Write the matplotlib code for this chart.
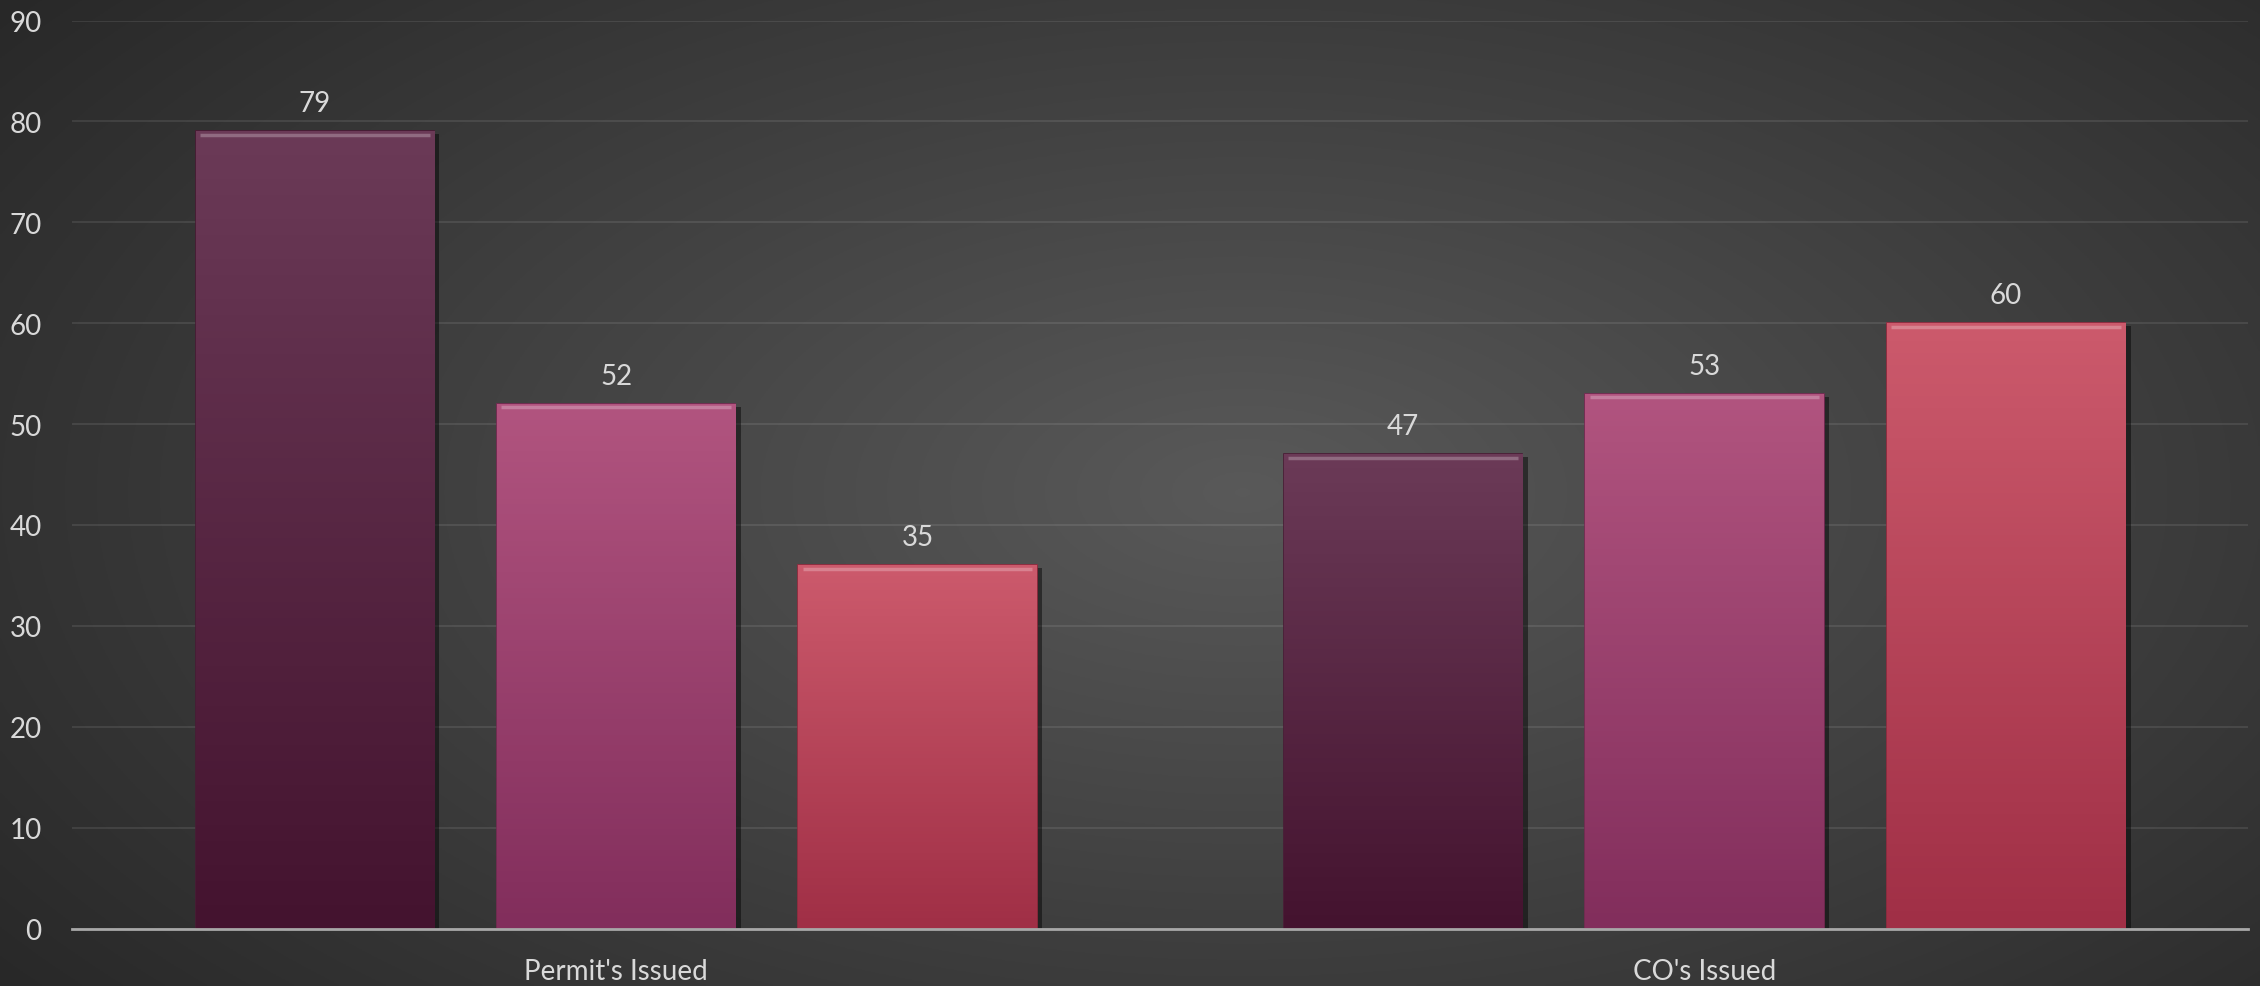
import numpy as np
import matplotlib.pyplot as plt
import matplotlib.patheffects as pe
from matplotlib.colors import LinearSegmentedColormap

categories = ["Permit's Issued", "CO's Issued"]
series_a = [79, 47]
series_b = [52, 53]
series_c = [36, 60]
labels_a = ["79", "47"]
labels_b = ["52", "53"]
labels_c = ["35", "60"]
yticks = [0, 10, 20, 30, 40, 50, 60, 70, 80, 90]

# (top colour, bottom colour) for each series
grads = [("#6b3a57", "#44132f"), ("#b1547f", "#822e5c"), ("#cc5a6c", "#a02f46")]
edges = ["#4a1a35", "#7a2a55", "#9a2a40"]

plt.rcParams['font.family'] = ['Lato', 'DejaVu Sans']
txt = "#d9d9d9"

fig = plt.figure(figsize=(22.6, 9.87), dpi=100)

# radial background
bg = fig.add_axes([0, 0, 1, 1], zorder=-10)
yy, xx = np.mgrid[0:1:400j, 0:1:900j]
r = np.sqrt(((xx - 0.55) / 0.75) ** 2 + ((yy - 0.5) / 0.9) ** 2)
g = np.clip(0.35 - 0.21 * r, 0.16, 0.35)
bg.imshow(np.dstack([g, g, g]), extent=[0, 1, 0, 1], aspect='auto', origin='lower')
bg.axis('off')

ax = fig.add_axes([0.0319, 0.0582, 0.963, 0.92])
ax.patch.set_alpha(0)
x = np.arange(len(categories))
w = 0.219
step = 0.277
allvals = [series_a, series_b, series_c]
alllabs = [labels_a, labels_b, labels_c]
for i, (vals, labs) in enumerate(zip(allvals, alllabs)):
    bars = ax.bar(x + (i - 1) * step, vals, w, color=grads[i][1], edgecolor=edges[i],
                  linewidth=1.2, zorder=3)
    cmap = LinearSegmentedColormap.from_list("g%d" % i, [grads[i][1], grads[i][0]])
    for b, lab in zip(bars, labs):
        b.set_path_effects([pe.SimplePatchShadow(offset=(4, -2), shadow_rgbFace='black', alpha=0.45),
                            pe.Normal()])
        x0, h = b.get_x(), b.get_height()
        im = ax.imshow(np.linspace(0, 1, 100).reshape(-1, 1), cmap=cmap, origin='lower',
                       extent=[x0, x0 + w, 0, h], aspect='auto', zorder=3.5)
        im.set_clip_path(b)
        # bevel highlight on top
        ax.plot([x0 + 0.004, x0 + w - 0.004], [h - 0.35, h - 0.35], color='white',
                alpha=0.25, lw=2.5, zorder=4, solid_capstyle='butt')
        ax.text(x0 + w / 2, h + 1.5, lab, ha='center', va='bottom', color=txt, fontsize=20)

ax.set_xlim(-0.5, 1.5)
ax.set_ylim(0, 90)
ax.set_yticks(yticks)
ax.set_xticks(x)
ax.set_xticklabels(categories)
ax.grid(axis='y', color='white', alpha=0.09, lw=1.5, zorder=0)
ax.set_axisbelow(True)
for s in ['top', 'right', 'left']:
    ax.spines[s].set_visible(False)
ax.spines['bottom'].set_color('#a8a8a8')
ax.spines['bottom'].set_linewidth(2)
ax.spines['bottom'].set_zorder(5)
ax.tick_params(axis='y', length=0, pad=22, labelsize=20, labelcolor=txt)
ax.tick_params(axis='x', length=0, pad=21, labelsize=20, labelcolor=txt)

fig.savefig("out.png", dpi=100)
